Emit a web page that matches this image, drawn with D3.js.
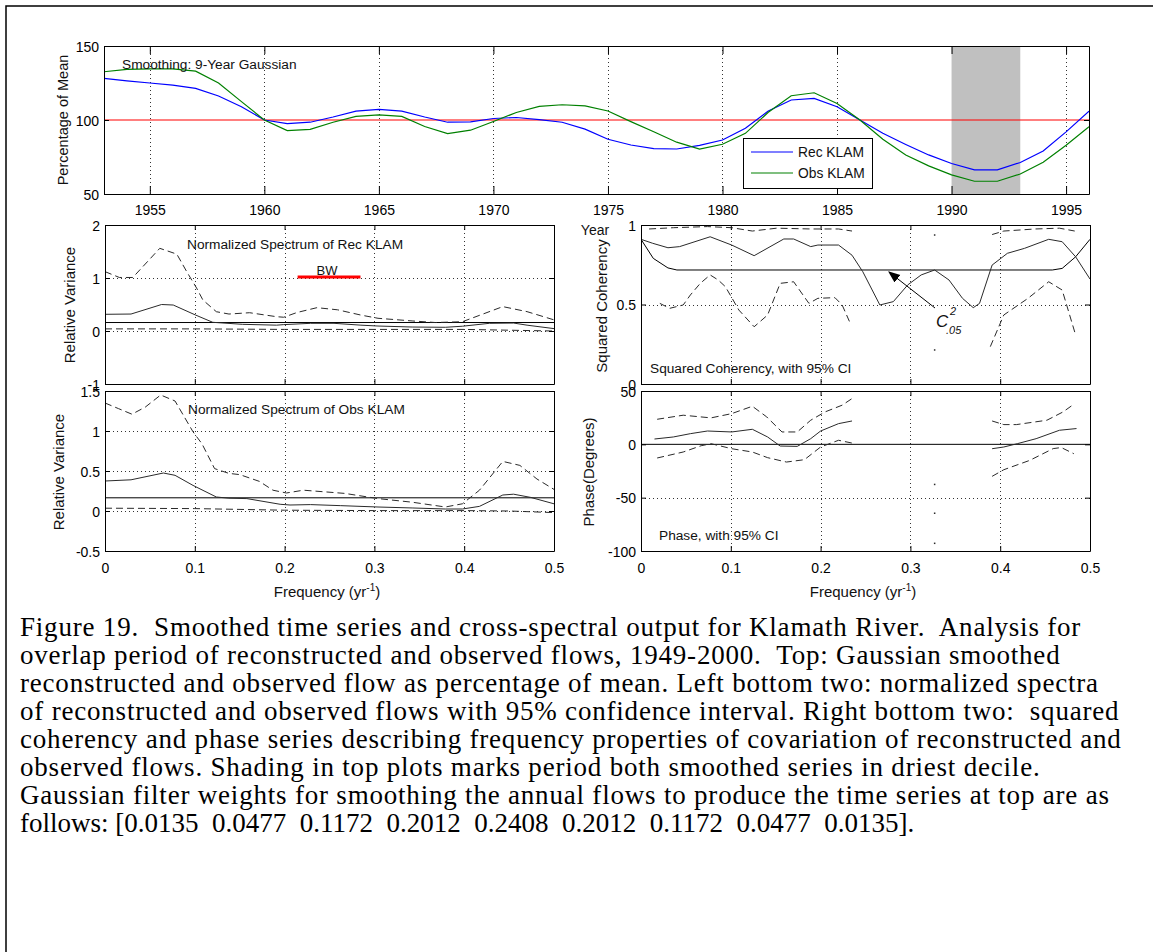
<!DOCTYPE html>
<html><head><meta charset="utf-8">
<script src="https://cdn.jsdelivr.net/npm/d3@7"></script>
<style>
body{margin:0;background:#fff;}
svg{display:block;}
.cap{font-family:"Liberation Serif","Times New Roman",serif;white-space:pre;}
</style></head><body>
<svg id="c" width="1153" height="952"></svg>
<script>
// ---------------- DATA ----------------
const years = d3.range(1953, 1997);
const recKlam = [128.1,126.5,125.0,123.6,121.4,116.2,109.0,100.0,97.5,98.5,102.0,106.0,107.2,106.0,102.0,98.5,98.7,101.0,101.7,100.2,98.5,93.8,87.0,83.1,80.7,80.4,82.8,86.5,94.4,106.1,113.5,114.6,109.0,100.0,91.0,83.5,76.4,70.6,66.3,66.3,71.3,79.0,92.0,106.0];
const obsKlam = [132.6,134.2,134.6,134.6,133.0,125.0,112.4,100.0,92.8,93.7,98.5,102.4,103.5,102.4,95.6,90.8,93.1,99.0,105.1,109.2,110.3,109.6,106.1,98.9,92.1,85.0,80.4,83.6,91.0,105.2,116.4,118.4,111.2,100.0,87.0,76.4,69.0,62.9,58.6,58.6,63.5,71.5,83.0,95.5];
const meanLevel = 100;
const dryPeriod = [1990, 1993];
const yearTicks = [1955,1960,1965,1970,1975,1980,1985,1990,1995];
const pctTicks = [50,100,150];

const freqTicks = [0,0.1,0.2,0.3,0.4,0.5];
const freqTickLabels = ["0","0.1","0.2","0.3","0.4","0.5"];

// Normalized spectrum, reconstructed
const recF    = [0,0.029,0.063,0.076,0.101,0.12,0.153,0.191,0.199,0.229,0.255,0.285,0.304,0.342,0.379,0.398,0.428,0.455,0.47,0.5];
const recSpec = [0.315,0.32,0.50,0.49,0.30,0.164,0.126,0.11,0.12,0.145,0.145,0.11,0.094,0.075,0.07,0.09,0.145,0.15,0.11,0.045];
const recUpF  = [0,0.016,0.031,0.061,0.08,0.091,0.102,0.109,0.124,0.138,0.161,0.191,0.199,0.214,0.236,0.259,0.285,0.304,0.342,0.368,0.398,0.443,0.47,0.5];
const recUp   = [1.12,1.01,1.01,1.56,1.45,1.12,0.81,0.585,0.364,0.32,0.345,0.27,0.26,0.35,0.44,0.40,0.30,0.24,0.19,0.16,0.175,0.46,0.365,0.21];
const recLoF  = [0,0.1,0.2,0.3,0.4,0.5];
const recLo   = [0.04,0.04,0.03,0.03,0.03,0.0];
const recNoise = 0.16;
const bandwidth = [0.2145,0.2845];
const bwLevel = 1.02;

// Normalized spectrum, observed
const obsF    = [0,0.029,0.065,0.078,0.098,0.124,0.138,0.158,0.195,0.206,0.229,0.262,0.304,0.342,0.379,0.398,0.417,0.443,0.455,0.474,0.5];
const obsSpec = [0.375,0.39,0.475,0.446,0.32,0.175,0.16,0.155,0.084,0.075,0.08,0.067,0.05,0.038,0.025,0.025,0.058,0.20,0.21,0.17,0.09];
const obsUpF  = [0,0.015,0.03,0.045,0.062,0.078,0.098,0.108,0.122,0.138,0.150,0.172,0.187,0.202,0.221,0.267,0.304,0.342,0.379,0.398,0.417,0.443,0.462,0.481,0.5];
const obsUp   = [1.35,1.28,1.21,1.30,1.45,1.375,0.99,0.84,0.53,0.47,0.455,0.37,0.26,0.225,0.26,0.22,0.155,0.11,0.05,0.09,0.26,0.62,0.57,0.40,0.27];
const obsLoF  = [0,0.1,0.2,0.3,0.4,0.45,0.5];
const obsLo   = [0.035,0.03,0.01,0.005,0.005,0.0,-0.02];
const obsNoise = 0.165;

// Squared coherency
const cohF  = [0,0.013,0.03,0.043,0.077,0.101,0.126,0.159,0.170,0.189,0.197,0.22,0.235,0.247,0.266,0.281,0.297,0.312,0.327,0.343,0.358,0.37,0.377,0.391,0.408,0.427,0.454,0.469,0.484,0.5];
const coh   = [0.91,0.885,0.857,0.864,0.926,0.874,0.807,0.912,0.912,0.864,0.874,0.874,0.81,0.706,0.497,0.518,0.623,0.686,0.717,0.654,0.539,0.48,0.507,0.748,0.822,0.853,0.91,0.895,0.80,0.66];
const c05F  = [0,0.0137,0.03,0.04,0.458,0.469,0.484,0.5];
const c05   = [0.91,0.79,0.73,0.717,0.717,0.727,0.80,0.91];
const cohUpF = [0.009,0.036,0.074,0.101,0.124,0.151,0.189,0.22,0.235,0.3,0.391,0.404,0.439,0.466,0.483];
const cohUp  = [0.975,0.983,0.99,0.983,0.962,0.98,0.975,0.975,0.962,null,0.94,0.962,0.975,0.98,0.962];
const cohLoF = [0.021,0.032,0.047,0.055,0.066,0.077,0.086,0.094,0.109,0.126,0.141,0.155,0.170,0.187,0.197,0.216,0.224,0.233,0.3,0.389,0.404,0.431,0.454,0.469,0.484];
const cohLo  = [0.507,0.476,0.497,0.56,0.633,0.686,0.654,0.612,0.465,0.36,0.434,0.633,0.643,0.507,0.539,0.543,0.497,0.382,null,0.235,0.434,0.539,0.643,0.591,0.308];
const cohDotF = [0.327,0.327];
const cohDot  = [0.937,0.214];

// Phase
const phF   = [0.015,0.036,0.055,0.074,0.101,0.124,0.141,0.155,0.174,0.189,0.2,0.22,0.235,0.3,0.391,0.404,0.419,0.44,0.466,0.485];
const ph    = [5.0,6.9,10,12.5,11.6,14.1,6.9,-1.6,-1.9,5.3,12.5,19.4,21.9,null,-4.1,-2.5,0.6,5.3,13.2,14.8];
const phUpF = [0.018,0.047,0.078,0.101,0.124,0.14,0.157,0.174,0.189,0.205,0.224,0.235,0.3,0.391,0.404,0.418,0.452,0.47,0.482];
const phUp  = [23.5,27.3,24.8,28.8,35.7,25.7,11.6,11.6,22.6,30.4,36.7,42.9,null,21.9,18.5,18.5,22.6,30.4,37.6];
const phLoF = [0.018,0.047,0.067,0.078,0.101,0.124,0.141,0.162,0.182,0.2,0.22,0.235,0.3,0.391,0.404,0.433,0.459,0.468,0.482];
const phLo  = [-12.8,-7.2,-1.3,0.6,-4.1,-7.2,-12.5,-16.6,-14.4,-2.5,3.8,1.2,null,-30,-23.8,-15,-4,-3,-8.8];
const phDotF = [0.327,0.327,0.327];
const phDot  = [-37.6,-64.6,-92.8];

const captionLines = [
 "Figure 19.  Smoothed time series and cross-spectral output for Klamath River.  Analysis for",
 "overlap period of reconstructed and observed flows, 1949-2000.  Top: Gaussian smoothed",
 "reconstructed and observed flow as percentage of mean. Left bottom two: normalized spectra",
 "of reconstructed and observed flows with 95% confidence interval. Right bottom two:  squared",
 "coherency and phase series describing frequency properties of covariation of reconstructed and",
 "observed flows. Shading in top plots marks period both smoothed series in driest decile.",
 "Gaussian filter weights for smoothing the annual flows to produce the time series at top are as"
];
const filterWeights = ["0.0135","0.0477","0.1172","0.2012","0.2408","0.2012","0.1172","0.0477","0.0135"];

// ---------------- DRAWING ----------------
const svg = d3.select("#c");
const SANS = '"Liberation Sans", Arial, Helvetica, sans-serif';
const INK = "#2a2a2a";
let clipN = 0;

svg.append("path").attr("d","M6,952V6H1153").attr("fill","none").attr("stroke","#000").attr("stroke-width",1.5);

function panel(o){
  const x = d3.scaleLinear().domain(o.xd).range([o.l,o.r]);
  const y = d3.scaleLinear().domain(o.yd).range([o.b,o.t]);
  const g = svg.append("g");
  const id = "clip"+(clipN++);
  svg.append("clipPath").attr("id",id).append("rect")
    .attr("x",o.l).attr("y",o.t).attr("width",o.r-o.l).attr("height",o.b-o.t);
  const gl = g.append("g");
  const dl = g.append("g").attr("clip-path",`url(#${id})`);
  const al = g.append("g");
  (o.xGrid||[]).forEach(v=>{
    gl.append("line").attr("x1",Math.round(x(v))+0.5).attr("x2",Math.round(x(v))+0.5)
      .attr("y1",o.t).attr("y2",o.b).attr("stroke","#333").attr("stroke-dasharray","1,3");
  });
  (o.yGrid||[]).forEach(v=>{
    gl.append("line").attr("y1",Math.round(y(v))+0.5).attr("y2",Math.round(y(v))+0.5)
      .attr("x1",o.l).attr("x2",o.r).attr("stroke","#333").attr("stroke-dasharray","1,3");
  });
  return {x,y,dl,al,o};
}

function finishAxes(p, xt, xlab, yt, ylab, tl, xpad){
  const {x,y,al,o} = p;
  const font = s=>s.attr("font-family",SANS).attr("font-size",14).attr("color","#000");
  const bx = al.append("g").attr("transform",`translate(0,${o.b})`)
    .call(d3.axisBottom(x).tickValues(xt).tickSizeInner(-tl).tickSizeOuter(0).tickPadding(xpad||12)
      .tickFormat((d,i)=> xlab ? xlab[i] : ""));
  font(bx);
  const tx = al.append("g").attr("transform",`translate(0,${o.t})`)
    .call(d3.axisTop(x).tickValues(xt).tickSizeInner(-tl).tickSizeOuter(0).tickFormat(""));
  const ly = al.append("g").attr("transform",`translate(${o.l},0)`)
    .call(d3.axisLeft(y).tickValues(yt).tickSizeInner(-5).tickSizeOuter(0).tickPadding(5)
      .tickFormat((d,i)=>ylab[i]));
  font(ly);
  const ry = al.append("g").attr("transform",`translate(${o.r},0)`)
    .call(d3.axisRight(y).tickValues(yt).tickSizeInner(-5).tickSizeOuter(0).tickFormat(""));
  [bx,tx,ly,ry].forEach(a=>{a.select(".domain").attr("stroke","#000");a.selectAll(".tick line").attr("stroke","#000");});
  ly.selectAll(".tick text").attr("dy","0.36em");
}

function drawLine(p, xs, ys, opts){
  const pts = xs.map((v,i)=>[v,ys[i]]);
  const ln = d3.line().defined(d=>d[1]!==null).x(d=>p.x(d[0])).y(d=>p.y(d[1]));
  p.dl.append("path").datum(pts).attr("d",ln).attr("fill","none")
    .attr("stroke",opts.color||INK).attr("stroke-width",opts.w||1)
    .attr("stroke-dasharray",opts.dash||null);
}
function drawDots(p, xs, ys){
  xs.forEach((v,i)=>{
    p.dl.append("rect").attr("x",p.x(v)-0.75).attr("y",p.y(ys[i])-0.75).attr("width",1.5).attr("height",1.5).attr("fill",INK);
  });
}
function label(txt, x, y, opts){
  const t = svg.append("text").attr("x",x).attr("y",y).attr("font-family",SANS)
    .attr("font-size",(opts&&opts.size)||13.7).attr("fill","#111").text(txt);
  if(opts&&opts.anchor) t.attr("text-anchor",opts.anchor);
  if(opts&&opts.rot) t.attr("transform",`rotate(-90,${x},${y})`);
  return t;
}

// ---- TOP PANEL ----
const topP = panel({l:104,r:1089,t:46,b:194,xd:[1953,1996],yd:[50,150],xGrid:yearTicks});
topP.dl.insert("rect",":first-child").attr("x",topP.x(dryPeriod[0])).attr("width",topP.x(dryPeriod[1])-topP.x(dryPeriod[0]))
  .attr("y",46).attr("height",148).attr("fill","#c0c0c0");
topP.dl.append("line").attr("x1",104).attr("x2",1089).attr("y1",topP.y(meanLevel)).attr("y2",topP.y(meanLevel))
  .attr("stroke","#ff0000").attr("stroke-width",1.2);
drawLine(topP, years, recKlam, {color:"#0000ff",w:1.2});
drawLine(topP, years, obsKlam, {color:"#008000",w:1.2});
finishAxes(topP, yearTicks, yearTicks.map(String), pctTicks, pctTicks.map(String), 8, 11);
label("Smoothing: 9-Year Gaussian",122,69);
const lg = svg.append("g");
lg.append("rect").attr("x",743.5).attr("y",138.5).attr("width",129).attr("height",50).attr("fill","#fff").attr("stroke","#000");
[["Rec KLAM","#0000ff",152],["Obs KLAM","#008000",173]].forEach(([t,c,yy])=>{
  lg.append("line").attr("x1",751).attr("x2",793).attr("y1",yy).attr("y2",yy).attr("stroke",c).attr("stroke-width",1.2);
  lg.append("text").attr("x",798).attr("y",yy+5).attr("font-family",SANS).attr("font-size",13.8).attr("fill","#111").text(t);
});
label("Percentage of Mean",68,120,{rot:true,anchor:"middle",size:14.5});
label("Year",595,235,{anchor:"middle",size:14});

// ---- MIDDLE LEFT: Rec spectrum ----
const ml = panel({l:105,r:554,t:225,b:384,xd:[0,0.5],yd:[-1,2],xGrid:[0.1,0.2,0.3,0.4],yGrid:[0,1]});
drawLine(ml, recLoF, recLo, {dash:"7,4"});
drawLine(ml, [0,0.5], [recNoise,recNoise], {color:"#000"});
drawLine(ml, recF, recSpec, {});
drawLine(ml, recUpF, recUp, {dash:"7,4"});
ml.dl.append("line").attr("x1",ml.x(bandwidth[0])).attr("x2",ml.x(bandwidth[1]))
  .attr("y1",ml.y(bwLevel)).attr("y2",ml.y(bwLevel)).attr("stroke","#ff0000").attr("stroke-width",3);
finishAxes(ml, freqTicks, null, [-1,0,1,2], ["-1","0","1","2"], 5);
label("Normalized Spectrum of Rec KLAM",187,249);
label("BW",327,275,{anchor:"middle",size:13});
label("Relative Variance",75,305,{rot:true,anchor:"middle",size:15});

// ---- BOTTOM LEFT: Obs spectrum ----
const bl = panel({l:105,r:554,t:391,b:551,xd:[0,0.5],yd:[-0.5,1.5],xGrid:[0.1,0.2,0.3,0.4],yGrid:[0,0.5,1]});
drawLine(bl, obsLoF, obsLo, {dash:"7,4"});
drawLine(bl, [0,0.5], [obsNoise,obsNoise], {color:"#000"});
drawLine(bl, obsF, obsSpec, {});
drawLine(bl, obsUpF, obsUp, {dash:"7,4"});
finishAxes(bl, freqTicks, freqTickLabels, [-0.5,0,0.5,1,1.5], ["-0.5","0","0.5","1","1.5"], 5, 12);
label("Normalized Spectrum of Obs KLAM",188,414);
label("Relative Variance",64,472,{rot:true,anchor:"middle",size:15});
const fx1 = label("Frequency (yr",327,597,{anchor:"middle",size:15});
fx1.append("tspan").attr("dy",-6).attr("font-size",10).text("-1");
fx1.append("tspan").attr("dy",6).text(")");

// ---- MIDDLE RIGHT: coherency ----
const mr = panel({l:641,r:1090,t:225,b:384,xd:[0,0.5],yd:[0,1],xGrid:[0.1,0.2,0.3,0.4],yGrid:[0.5]});
drawLine(mr, c05F, c05, {color:"#000"});
drawLine(mr, cohF, coh, {});
drawLine(mr, cohUpF, cohUp, {dash:"7,4"});
drawLine(mr, cohLoF, cohLo, {dash:"7,4"});
drawDots(mr, cohDotF, cohDot);
finishAxes(mr, freqTicks, null, [0,0.5,1], ["0","0.5","1"], 5);
label("Squared Coherency, with 95% CI",650,373);
label("Squared Coherency",607,306,{rot:true,anchor:"middle",size:15});
svg.append("defs").append("marker").attr("id","ah").attr("viewBox","0 0 10 10").attr("refX",9).attr("refY",5)
  .attr("markerWidth",12).attr("markerHeight",12).attr("markerUnits","userSpaceOnUse").attr("orient","auto")
  .append("path").attr("d","M0,1L10,5L0,9z").attr("fill","#000");
svg.append("line").attr("x1",935).attr("y1",308).attr("x2",889).attr("y2",272).attr("stroke","#000").attr("stroke-width",1).attr("marker-end","url(#ah)");
svg.append("text").attr("x",936).attr("y",327).attr("font-family",SANS).attr("font-style","italic").attr("font-size",17).attr("fill","#111").text("C");
svg.append("text").attr("x",950).attr("y",315).attr("font-family",SANS).attr("font-style","italic").attr("font-size",11).attr("fill","#111").text("2");
svg.append("text").attr("x",946).attr("y",334).attr("font-family",SANS).attr("font-style","italic").attr("font-size",11).attr("fill","#111").text(".05");

// ---- BOTTOM RIGHT: phase ----
const br = panel({l:641,r:1090,t:391,b:551,xd:[0,0.5],yd:[-100,50],xGrid:[0.1,0.2,0.3,0.4],yGrid:[-50]});
drawLine(br, [0,0.5],[0,0],{color:"#000"});
drawLine(br, phF, ph, {});
drawLine(br, phUpF, phUp, {dash:"7,4"});
drawLine(br, phLoF, phLo, {dash:"7,4"});
drawDots(br, phDotF, phDot);
finishAxes(br, freqTicks, freqTickLabels, [-100,-50,0,50], ["-100","-50","0","50"], 5, 12);
label("Phase, with 95% CI",659,540);
label("Phase(Degrees)",594,472,{rot:true,anchor:"middle",size:15});
const fx2 = label("Frequency (yr",863,597,{anchor:"middle",size:15});
fx2.append("tspan").attr("dy",-6).attr("font-size",10).text("-1");
fx2.append("tspan").attr("dy",6).text(")");

// ---- CAPTION ----
const capSize = 27;
captionLines.forEach((s,i)=>{
  svg.append("text").attr("class","cap").attr("x",20).attr("y",636+28*i).attr("font-size",capSize)
    .attr("letter-spacing","0.8px").attr("fill","#000").text(s);
});
const last = svg.append("text").attr("class","cap").attr("x",20).attr("y",636+28*7).attr("font-size",capSize).attr("fill","#000");
last.text("follows: [" + filterWeights.join("  ") + "].");
</script>
</body></html>
